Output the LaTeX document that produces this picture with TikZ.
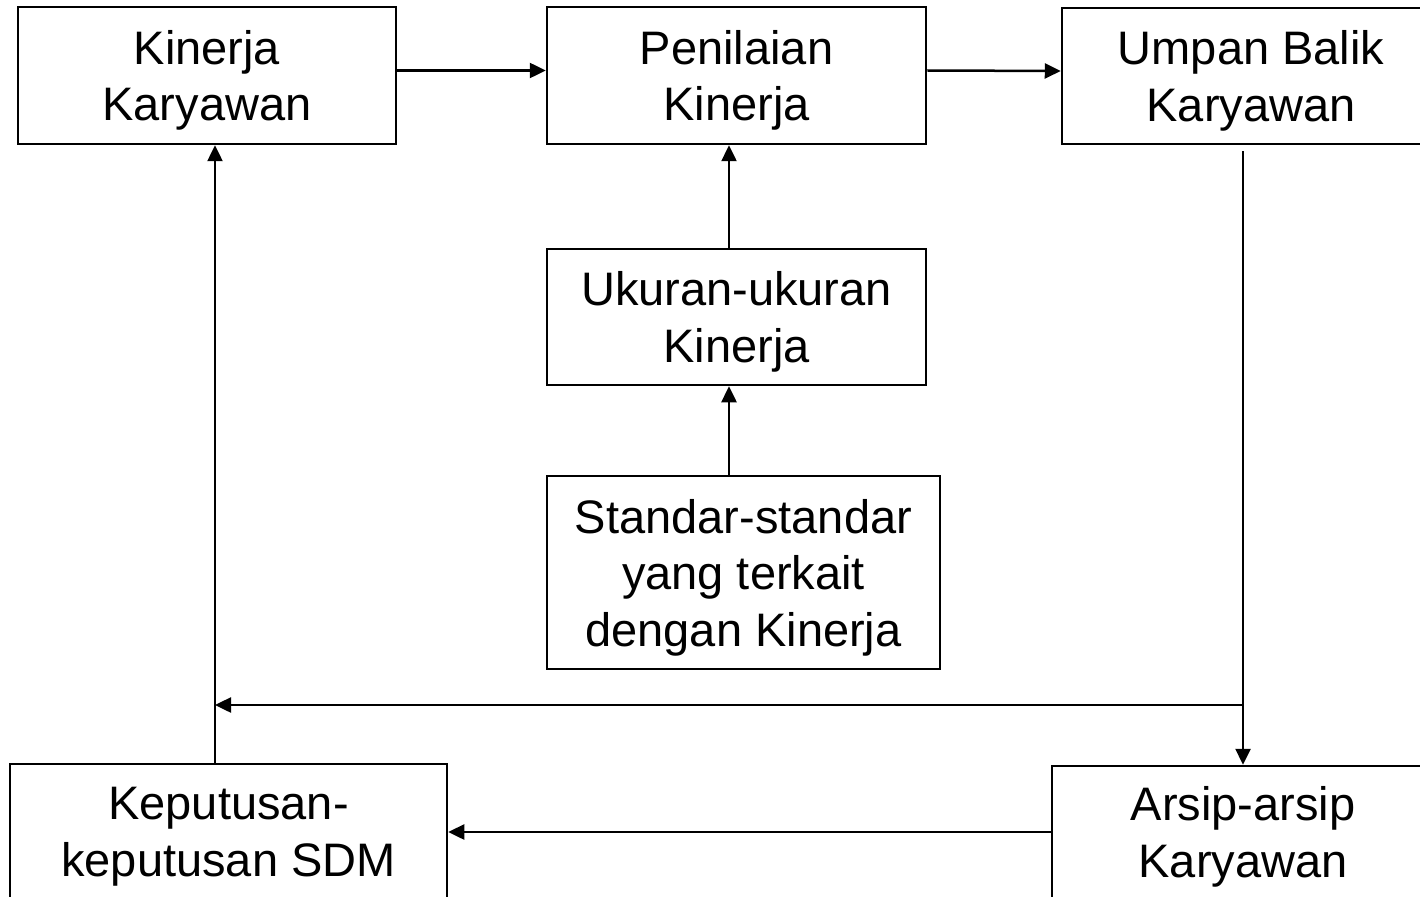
\documentclass[tikz,border=0pt]{standalone}
\usepackage{fontspec}
\setmainfont{Liberation Sans}
\usetikzlibrary{arrows.meta}
\newcommand\tsa{\rule{0pt}{44pt}}
\newcommand\tsb{\rule[-10pt]{0pt}{10pt}}
\begin{document}
\begin{tikzpicture}[x=1pt,y=-1pt,
  box/.style={draw,line width=2.5pt,rectangle,inner sep=0pt,align=center,
    font=\fontsize{47}{56.5}\selectfont},
  arr/.style={line width=2.5pt,-{Triangle[length=16pt,width=15pt]}}]
\useasboundingbox (0,0) rectangle (1420,896);
\clip (0,0) rectangle (1420,896);
\node[box,minimum width=378pt,minimum height=137pt] (kk) at (207,75.5) {\tsa Kinerja\\Karyawan\tsb};
\node[box,minimum width=379pt,minimum height=137pt] (pk) at (736.5,75.5) {\tsa Penilaian\\Kinerja\tsb};
\node[box,minimum width=378pt,minimum height=136pt] (ub) at (1251,76) {\tsa Umpan Balik\\Karyawan\tsb};
\node[box,minimum width=379pt,minimum height=136pt] (uk) at (736.5,317) {\tsa Ukuran-ukuran\\Kinerja\tsb};
\node[box,minimum width=393pt,minimum height=193pt] (ss) at (743.5,572.5) {\tsa Standar-standar\\yang terkait\\dengan Kinerja\tsb};
\node[box,minimum width=437pt,minimum height=134pt] (kp) at (228.5,831) {\tsa Keputusan-\\keputusan SDM\tsb};
\node[box,minimum width=382pt,minimum height=132pt] (ak) at (1243,832) {\tsa Arsip-arsip\\Karyawan\tsb};
\coordinate (cx) at (729,0);
\coordinate (cl) at (215,0);
\coordinate (cr) at (1243,0);
\coordinate (j) at (1243,705);
\draw[arr] ([yshift=5pt]kk.east) -- ([yshift=5pt]pk.west);
\draw[arr] ([yshift=5pt]pk.east) -- ([yshift=5pt]ub.west);
\draw[arr] (uk.north -| cx) -- (pk.south -| cx);
\draw[arr] (ss.north -| cx) -- (uk.south -| cx);
\draw[arr] ([yshift=-6pt]ub.south -| cr) -- (ak.north);
\draw[arr] (j) -- (j -| cl);
\draw[arr] (kp.north -| cl) -- (kk.south -| cl);
\draw[arr] (ak.west) -- (ak.west -| kp.east);
\end{tikzpicture}
\end{document}
